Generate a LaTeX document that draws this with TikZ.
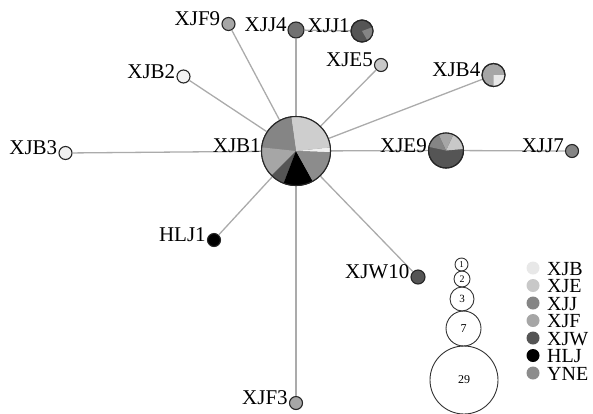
\documentclass[tikz,border=0pt]{standalone}
\usepackage{fontspec}
\setmainfont{Liberation Serif}
\definecolor{cXJB}{HTML}{E8E8E8}
\definecolor{cXJE}{HTML}{C8C8C8}
\definecolor{cXJJ}{HTML}{858585}
\definecolor{cXJF}{HTML}{A6A6A6}
\definecolor{cXJW}{HTML}{555555}
\definecolor{cHLJ}{HTML}{000000}
\definecolor{cYNE}{HTML}{8C8C8C}
\newcommand\hslice[5]{\fill[#5] (#1) -- ++(#3:#2) arc[start angle=#3,end angle=#4,radius=#2] -- cycle;}
\begin{document}
\begin{tikzpicture}[x=1pt,y=-1pt,
  hap/.style={circle,draw=black!85,line width=1.1pt,inner sep=0pt},
  ring/.style={draw=black!85,line width=1.1pt},
  edge/.style={draw=black!33,line width=1.3pt},
  lab/.style={font=\fontsize{21}{21}\selectfont,inner sep=0pt,anchor=base east},
  legtxt/.style={font=\fontsize{20}{20}\selectfont,inner sep=0pt,anchor=base west},
  legdot/.style={circle,inner sep=0pt,minimum size=13pt},
  sz/.style={circle,draw=black!80,line width=0.9pt,inner sep=0pt}]
\useasboundingbox (0,0) rectangle (593,413);
% haplotype nodes
\node[hap,minimum size=69pt,fill=cXJJ] (XJB1) at (296,151) {};
\node[hap,minimum size=13pt,fill=cXJF] (XJF9) at (228.5,24) {};
\node[hap,minimum size=16pt,fill=cXJJ!85!black] (XJJ4) at (296,30) {};
\node[hap,minimum size=22pt,fill=cXJW] (XJJ1) at (362,31) {};
\node[hap,minimum size=13pt,fill=cXJE] (XJE5) at (381,65) {};
\node[hap,minimum size=23pt,fill=cXJF] (XJB4) at (493.5,75) {};
\node[hap,minimum size=13pt,fill=cXJB!50!white] (XJB2) at (183.5,76.5) {};
\node[hap,minimum size=13pt,fill=cXJB!60!white] (XJB3) at (65.5,153) {};
\node[hap,minimum size=35pt,fill=cXJW] (XJE9) at (446,150.5) {};
\node[hap,minimum size=13pt,fill=cXJJ] (XJJ7) at (572,151) {};
\node[hap,minimum size=13pt,fill=cHLJ] (HLJ1) at (214,240) {};
\node[hap,minimum size=14pt,fill=cXJW] (XJW10) at (418,277) {};
\node[hap,minimum size=13pt,fill=cXJF] (XJF3) at (296,403) {};
% connectors
\draw[edge] (XJB1) -- (XJF9);
\draw[edge] (XJB1) -- (XJJ4);
\draw[edge] (XJJ4) -- (XJJ1);
\draw[edge] (XJB1) -- (XJE5);
\draw[edge] (XJB1) -- (XJB4);
\draw[edge] (XJB1) -- (XJB2);
\draw[edge] (XJB1) -- (XJB3);
\draw[edge] (XJB1) -- (XJE9);
\draw[edge] (XJE9) -- (XJJ7);
\draw[edge] (XJB1) -- (HLJ1);
\draw[edge] (XJB1) -- (XJW10);
\draw[edge] (XJB1) -- (XJF3);
% pie of XJB1
\hslice{XJB1.center}{34.5pt}{-2}{6}{cXJB!60!white}
\hslice{XJB1.center}{34.5pt}{6}{98}{cXJE!90!white}
\hslice{XJB1.center}{34.5pt}{98}{174}{cXJJ}
\hslice{XJB1.center}{34.5pt}{174}{225}{cXJF}
\hslice{XJB1.center}{34.5pt}{225}{249}{cXJW}
\hslice{XJB1.center}{34.5pt}{249}{299}{cHLJ}
\hslice{XJB1.center}{34.5pt}{299}{358}{cYNE}
\draw[ring] (XJB1.center) circle[radius=34.5pt];
% pie of XJE9
\hslice{XJE9.center}{17.5pt}{5}{65}{cXJE}
\hslice{XJE9.center}{17.5pt}{65}{115}{cXJF}
\hslice{XJE9.center}{17.5pt}{115}{168}{cXJJ}
\draw[ring] (XJE9.center) circle[radius=17.5pt];
% pie of XJJ1
\hslice{XJJ1.center}{11pt}{-60}{20}{cXJJ}
\draw[ring] (XJJ1.center) circle[radius=11pt];
% pie of XJB4
\hslice{XJB4.center}{11.5pt}{-90}{0}{cXJB}
\draw[ring] (XJB4.center) circle[radius=11.5pt];
% labels
\node[lab] (tXJF9) at ([xshift=-1pt,yshift=-1.5pt]XJF9.west) {XJF9};
\node[lab] (tXJJ4) at ([xshift=-0.5pt,yshift=-1.5pt]XJJ4.west) {XJJ4};
\node[lab] (tXJJ1) at ([xshift=-0.5pt,yshift=-1.5pt]XJJ1.west) {XJJ1};
\node[lab] (tXJE5) at ([xshift=-1pt,yshift=-1.5pt]XJE5.west) {XJE5};
\node[lab] (tXJB4) at ([xshift=-1pt,yshift=-1.5pt]XJB4.west) {XJB4};
\node[lab] (tXJB2) at ([xshift=-1pt,yshift=-1.5pt]XJB2.west) {XJB2};
\node[lab] (tXJB3) at ([xshift=-1pt,yshift=-1.5pt]XJB3.west) {XJB3};
\node[lab] (tXJB1) at ([xshift=-0pt,yshift=-1.5pt]XJB1.west) {XJB1};
\node[lab] (tXJE9) at ([xshift=-1pt,yshift=-1.5pt]XJE9.west) {XJE9};
\node[lab] (tXJJ7) at ([xshift=-1pt,yshift=-1.5pt]XJJ7.west) {XJJ7};
\node[lab] (tHLJ1) at ([xshift=-1pt,yshift=-1.5pt]HLJ1.west) {HLJ1};
\node[lab] (tXJW10) at ([xshift=-1pt,yshift=-1.5pt]XJW10.west) {XJW10};
\node[lab] (tXJF3) at ([xshift=-1pt,yshift=-1.5pt]XJF3.west) {XJF3};
% size legend
\node[sz,minimum size=13pt,font=\fontsize{9}{9}\selectfont] (s1) at (461.5,264.5) {1};
\node[sz,minimum size=16pt,font=\fontsize{10}{10}\selectfont] (s2) at (462,279) {2};
\node[sz,minimum size=24pt,font=\fontsize{11}{11}\selectfont] (s3) at (462,299) {3};
\node[sz,minimum size=35pt,font=\fontsize{12}{12}\selectfont] (s7) at (463.5,328.5) {7};
\node[sz,minimum size=68pt,font=\fontsize{12}{12}\selectfont] (s29) at (464,380) {29};
% colour legend
\node[legdot,fill=cXJB] (dXJB) at (533,268) {};
\node[legdot,fill=cXJE] (dXJE) at (533,285.5) {};
\node[legdot,fill=cXJJ] (dXJJ) at (533,303) {};
\node[legdot,fill=cXJF] (dXJF) at (533,320.5) {};
\node[legdot,fill=cXJW] (dXJW) at (533,338) {};
\node[legdot,fill=cHLJ] (dHLJ) at (533,355.5) {};
\node[legdot,fill=cYNE] (dYNE) at (533,373) {};
\node[legtxt] (lXJB) at (547,275) {XJB};
\node[legtxt] (lXJE) at (547,292.5) {XJE};
\node[legtxt] (lXJJ) at (547,310) {XJJ};
\node[legtxt] (lXJF) at (547,327.5) {XJF};
\node[legtxt] (lXJW) at (547,345) {XJW};
\node[legtxt] (lHLJ) at (547,362.5) {HLJ};
\node[legtxt] (lYNE) at (547,380) {YNE};
\end{tikzpicture}
\end{document}
